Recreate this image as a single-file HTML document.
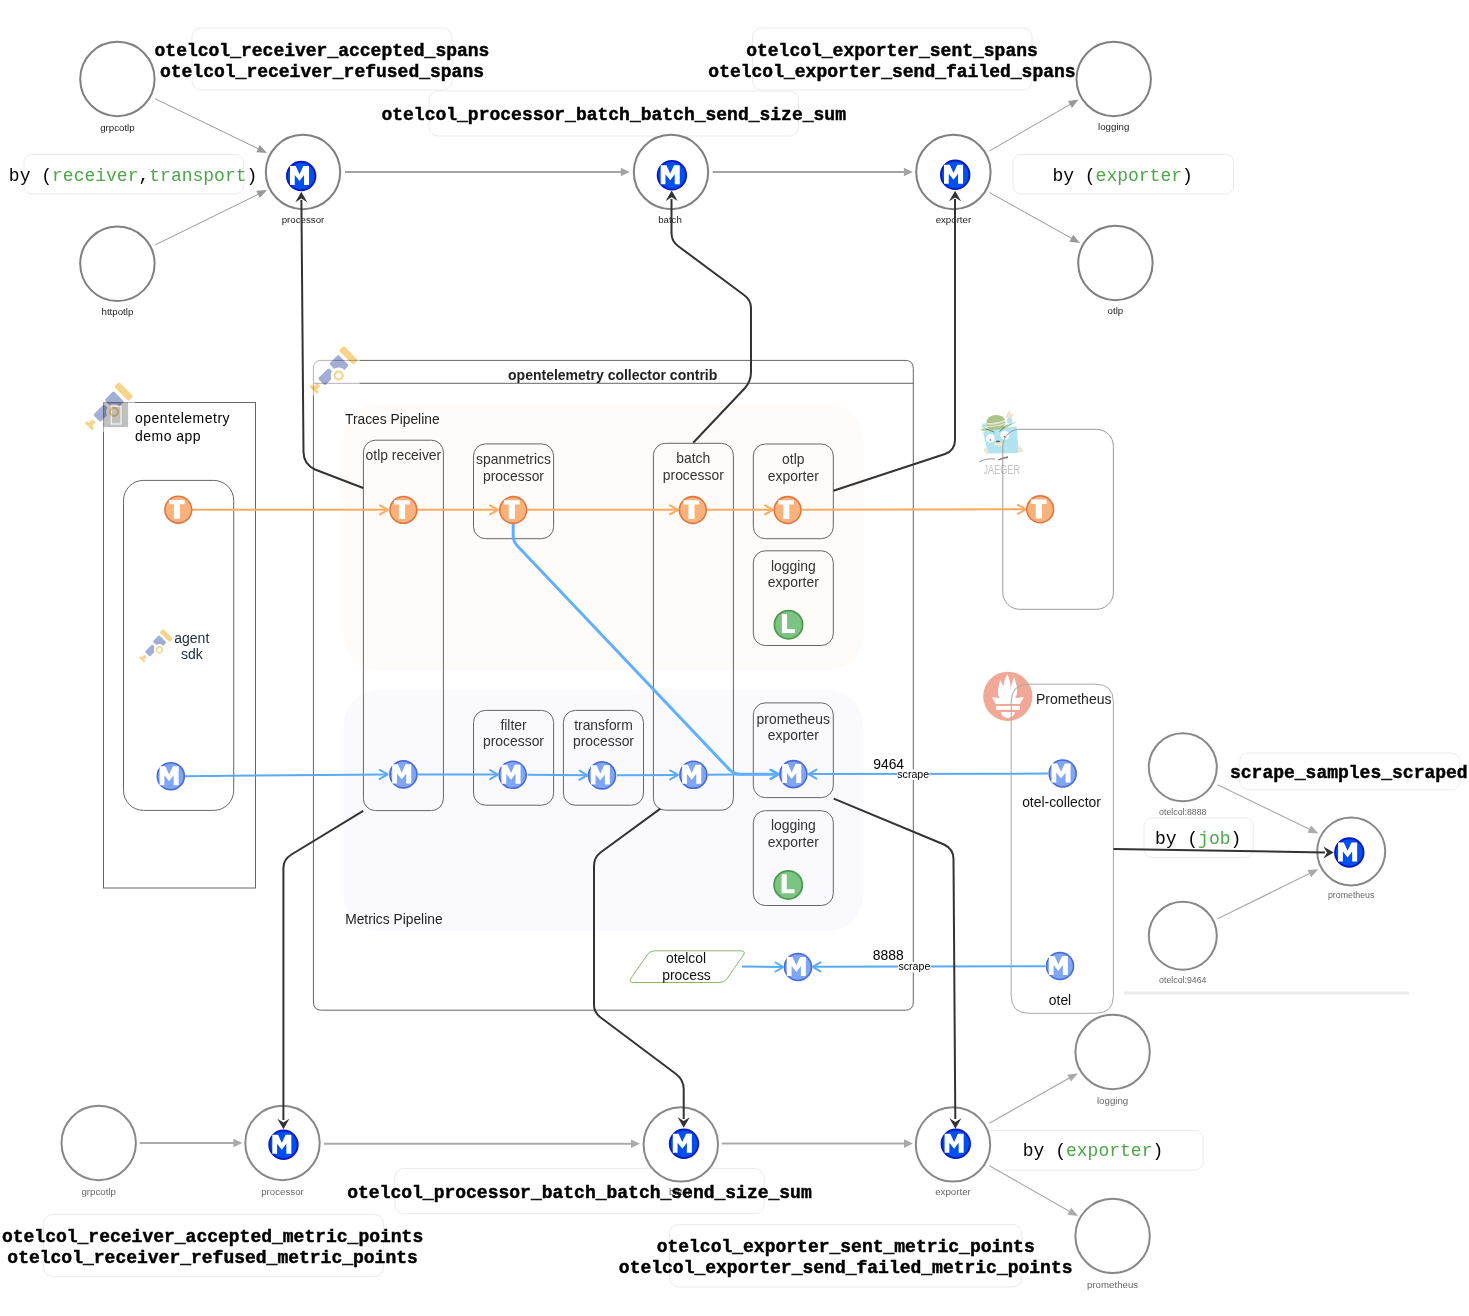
<!DOCTYPE html>
<html><head><meta charset="utf-8"><title>otelcol metrics</title>
<style>html,body{margin:0;padding:0;background:#fff;width:1469px;height:1316px;overflow:hidden;position:relative;font-family:"Liberation Sans", sans-serif;}</style>
</head><body>
<svg width="1469" height="1316" viewBox="0 0 1469 1316" style="position:absolute;left:0;top:0">
<rect width="1469" height="1316" fill="#fff"/>
<rect x="192" y="28" width="260" height="62" rx="9" ry="9" fill="none" stroke="#ebebeb" stroke-width="1" />
<rect x="429" y="91" width="369.5" height="45" rx="9" ry="9" fill="none" stroke="#ebebeb" stroke-width="1" />
<rect x="752.5" y="28" width="279.5" height="62" rx="9" ry="9" fill="none" stroke="#ebebeb" stroke-width="1" />
<rect x="24" y="154.5" width="219.5" height="39.5" rx="8" ry="8" fill="none" stroke="#ebebeb" stroke-width="1" />
<rect x="1013" y="154.5" width="220.5" height="39.5" rx="8" ry="8" fill="none" stroke="#ebebeb" stroke-width="1" />
<text x="322" y="56.4" font-size="18" fill="#000" text-anchor="middle" font-weight="bold" font-family='"Liberation Mono", monospace' stroke="#000" stroke-width="0.45">otelcol_receiver_accepted_spans</text>
<text x="322" y="77.2" font-size="18" fill="#000" text-anchor="middle" font-weight="bold" font-family='"Liberation Mono", monospace' stroke="#000" stroke-width="0.45">otelcol_receiver_refused_spans</text>
<text x="613.7" y="120.3" font-size="18" fill="#000" text-anchor="middle" font-weight="bold" font-family='"Liberation Mono", monospace' stroke="#000" stroke-width="0.45">otelcol_processor_batch_batch_send_size_sum</text>
<text x="892" y="56.4" font-size="18" fill="#000" text-anchor="middle" font-weight="bold" font-family='"Liberation Mono", monospace' stroke="#000" stroke-width="0.45">otelcol_exporter_sent_spans</text>
<text x="892" y="77.2" font-size="18" fill="#000" text-anchor="middle" font-weight="bold" font-family='"Liberation Mono", monospace' stroke="#000" stroke-width="0.45">otelcol_exporter_send_failed_spans</text>
<text x="8.85" y="180.5" font-size="18" font-family='"Liberation Mono", monospace' fill="#000">by (<tspan fill="#4ea64a">receiver</tspan>,<tspan fill="#4ea64a">transport</tspan>)</text>
<text x="1052.4" y="180.5" font-size="18" font-family='"Liberation Mono", monospace' fill="#000">by (<tspan fill="#4ea64a">exporter</tspan>)</text>
<circle cx="117.4" cy="79" r="37.2" fill="#fff" stroke="#808080" stroke-width="2"/>
<circle cx="117.4" cy="263.8" r="37.2" fill="#fff" stroke="#808080" stroke-width="2"/>
<circle cx="303" cy="172" r="37.2" fill="#fff" stroke="#808080" stroke-width="2"/>
<circle cx="671" cy="172" r="37.2" fill="#fff" stroke="#808080" stroke-width="2"/>
<circle cx="953.4" cy="172" r="37.2" fill="#fff" stroke="#808080" stroke-width="2"/>
<circle cx="1113.7" cy="79" r="37.2" fill="#fff" stroke="#808080" stroke-width="2"/>
<circle cx="1115.4" cy="263" r="37.2" fill="#fff" stroke="#808080" stroke-width="2"/>
<text x="117.4" y="130.6" font-size="9.7" fill="#222" text-anchor="middle" font-weight="normal" font-family='"Liberation Sans", sans-serif' >grpcotlp</text>
<text x="117.4" y="314.6" font-size="9.7" fill="#222" text-anchor="middle" font-weight="normal" font-family='"Liberation Sans", sans-serif' >httpotlp</text>
<text x="303" y="222.6" font-size="9.7" fill="#222" text-anchor="middle" font-weight="normal" font-family='"Liberation Sans", sans-serif' >processor</text>
<text x="670" y="222.6" font-size="9.7" fill="#222" text-anchor="middle" font-weight="normal" font-family='"Liberation Sans", sans-serif' >batch</text>
<text x="953.4" y="222.6" font-size="9.7" fill="#222" text-anchor="middle" font-weight="normal" font-family='"Liberation Sans", sans-serif' >exporter</text>
<text x="1113.7" y="129.6" font-size="9.7" fill="#222" text-anchor="middle" font-weight="normal" font-family='"Liberation Sans", sans-serif' >logging</text>
<text x="1115.4" y="313.6" font-size="9.7" fill="#222" text-anchor="middle" font-weight="normal" font-family='"Liberation Sans", sans-serif' >otlp</text>
<line x1="155" y1="98.7" x2="259.80" y2="149.51" stroke="#999" stroke-width="1"/>
<polygon fill="#999" points="267.00,153.00 256.26,152.24 259.75,145.04"/>
<line x1="155" y1="245" x2="259.82" y2="193.53" stroke="#999" stroke-width="1"/>
<polygon fill="#999" points="267.00,190.00 259.79,198.00 256.26,190.82"/>
<line x1="345" y1="172" x2="622.60" y2="172.00" stroke="#a4a4a4" stroke-width="2"/>
<polygon fill="#a4a4a4" points="629.80,172.00 620.80,176.30 620.80,167.70"/>
<line x1="712.7" y1="172" x2="905.70" y2="172.00" stroke="#a4a4a4" stroke-width="2"/>
<polygon fill="#a4a4a4" points="912.90,172.00 903.90,176.30 903.90,167.70"/>
<line x1="989.4" y1="151" x2="1071.67" y2="103.50" stroke="#999" stroke-width="1"/>
<polygon fill="#999" points="1078.60,99.50 1071.94,107.96 1067.94,101.04"/>
<line x1="989.4" y1="192.5" x2="1073.01" y2="239.11" stroke="#999" stroke-width="1"/>
<polygon fill="#999" points="1080.00,243.00 1069.32,241.63 1073.21,234.64"/>
<rect x="103.5" y="402.5" width="152" height="485.5" rx="0" ry="0" fill="none" stroke="#666" stroke-width="1" />
<rect x="85.0" y="381.9" width="50.0" height="50.0" fill="#fff" opacity="0.5"/>
<g transform="translate(114,411.9) scale(1.0) rotate(-45)" style="mix-blend-mode:multiply">
<rect x="17.8" y="-17.6" width="6.9" height="20.3" rx="1.6" fill="#f8d38a"/>
<defs><mask id="tm114411"><rect x="-40" y="-40" width="80" height="80" fill="#fff"/><circle r="8" fill="#000"/></mask></defs>
<g mask="url(#tm114411)">
<rect x="1.6" y="-15.1" width="12.8" height="15.1" rx="1.5" fill="#a3aed7"/>
<rect x="-16.8" y="-12.6" width="15" height="10" rx="1.5" fill="#a3aed7"/>
</g>
<circle r="4" fill="none" stroke="#f8d38a" stroke-width="2.2"/>
<rect x="-28.5" y="-12.8" width="3" height="10.4" rx="1" fill="#f8d38a"/>
<rect x="-26" y="-10.1" width="5.6" height="4.5" rx="0.8" fill="#f8d38a"/>
</g>
<g style="mix-blend-mode:multiply"><rect x="103.3" y="402.4" width="24.8" height="24.8" fill="#c0c0c0"/>
<rect x="111.2" y="406.2" width="9.8" height="17.8" fill="none" stroke="#fff" stroke-width="1"/></g>
<text x="134.9" y="423.0" font-size="14" fill="#000" text-anchor="start" font-weight="normal" font-family='"Liberation Sans", sans-serif' letter-spacing="0.5">opentelemetry</text>
<text x="134.9" y="440.7" font-size="14" fill="#000" text-anchor="start" font-weight="normal" font-family='"Liberation Sans", sans-serif' letter-spacing="0.5">demo app</text>
<rect x="123.5" y="480.4" width="110.2" height="330" rx="20" ry="20" fill="none" stroke="#666" stroke-width="1" />
<rect x="139.1" y="628.7" width="35.0" height="35.0" fill="#fff" opacity="0.5"/>
<g transform="translate(159.4,649.7) scale(0.7) rotate(-45)" style="mix-blend-mode:multiply">
<rect x="17.8" y="-17.6" width="6.9" height="20.3" rx="1.6" fill="#f8d38a"/>
<defs><mask id="tm159649"><rect x="-40" y="-40" width="80" height="80" fill="#fff"/><circle r="8" fill="#000"/></mask></defs>
<g mask="url(#tm159649)">
<rect x="1.6" y="-15.1" width="12.8" height="15.1" rx="1.5" fill="#a3aed7"/>
<rect x="-16.8" y="-12.6" width="15" height="10" rx="1.5" fill="#a3aed7"/>
</g>
<circle r="4" fill="none" stroke="#f8d38a" stroke-width="2.2"/>
<rect x="-28.5" y="-12.8" width="3" height="10.4" rx="1" fill="#f8d38a"/>
<rect x="-26" y="-10.1" width="5.6" height="4.5" rx="0.8" fill="#f8d38a"/>
</g>
<text x="191.8" y="642.5" font-size="14" fill="#1d2b3a" text-anchor="middle" font-weight="normal" font-family='"Liberation Sans", sans-serif' >agent</text>
<text x="191.8" y="659.3" font-size="14" fill="#1d2b3a" text-anchor="middle" font-weight="normal" font-family='"Liberation Sans", sans-serif' >sdk</text>
<path d="M313.4,1002 L313.4,368.5 Q313.4,360.4 321.5,360.4 L905.2,360.4 Q913.3,360.4 913.3,368.5 L913.3,1002 Q913.3,1010.2 905.2,1010.2 L321.5,1010.2 Q313.4,1010.2 313.4,1002 Z" fill="#fff" stroke="#666" stroke-width="1" stroke-linejoin="round" />
<line x1="313.4" y1="383.3" x2="913.3" y2="383.3" stroke="#666" stroke-width="1"/>
<text x="612.7" y="380.3" font-size="14" fill="#222" text-anchor="middle" font-weight="bold" font-family='"Liberation Sans", sans-serif' >opentelemetry collector contrib</text>
<rect x="309.7" y="345.6" width="50.0" height="50.0" fill="#fff" opacity="0.5"/>
<g transform="translate(338.7,375.6) scale(1.0) rotate(-45)" style="mix-blend-mode:multiply">
<rect x="17.8" y="-17.6" width="6.9" height="20.3" rx="1.6" fill="#f8d38a"/>
<defs><mask id="tm338375"><rect x="-40" y="-40" width="80" height="80" fill="#fff"/><circle r="8" fill="#000"/></mask></defs>
<g mask="url(#tm338375)">
<rect x="1.6" y="-15.1" width="12.8" height="15.1" rx="1.5" fill="#a3aed7"/>
<rect x="-16.8" y="-12.6" width="15" height="10" rx="1.5" fill="#a3aed7"/>
</g>
<circle r="4" fill="none" stroke="#f8d38a" stroke-width="2.2"/>
<rect x="-28.5" y="-12.8" width="3" height="10.4" rx="1" fill="#f8d38a"/>
<rect x="-26" y="-10.1" width="5.6" height="4.5" rx="0.8" fill="#f8d38a"/>
</g>
<rect x="343.6" y="403.5" width="520" height="267" rx="36" ry="36" fill="#fffbf8" stroke="none" stroke-width="1" />
<rect x="343.6" y="689.8" width="520" height="241.2" rx="36" ry="36" fill="#fafafe" stroke="none" stroke-width="1" />
<text x="345" y="424.3" font-size="13.8" fill="#222" text-anchor="start" font-weight="normal" font-family='"Liberation Sans", sans-serif' >Traces Pipeline</text>
<text x="345.2" y="924.3" font-size="13.8" fill="#222" text-anchor="start" font-weight="normal" font-family='"Liberation Sans", sans-serif' >Metrics Pipeline</text>
<rect x="363.4" y="440.2" width="80" height="370.4" rx="12" ry="12" fill="none" stroke="#666" stroke-width="1" />
<rect x="473.5" y="443.9" width="80.1" height="94.8" rx="12" ry="12" fill="none" stroke="#666" stroke-width="1" />
<rect x="653.4" y="443.3" width="80" height="366.9" rx="12" ry="12" fill="none" stroke="#666" stroke-width="1" />
<rect x="753.3" y="444" width="80" height="94.7" rx="12" ry="12" fill="none" stroke="#666" stroke-width="1" />
<rect x="753.3" y="550.8" width="80" height="94.7" rx="12" ry="12" fill="none" stroke="#666" stroke-width="1" />
<rect x="473.5" y="710.4" width="80.1" height="94.8" rx="12" ry="12" fill="none" stroke="#666" stroke-width="1" />
<rect x="563.4" y="710.4" width="80.1" height="94.8" rx="12" ry="12" fill="none" stroke="#666" stroke-width="1" />
<rect x="753.3" y="702.9" width="80" height="94.7" rx="12" ry="12" fill="none" stroke="#666" stroke-width="1" />
<rect x="753.3" y="810.7" width="80" height="94.8" rx="12" ry="12" fill="none" stroke="#666" stroke-width="1" />
<text x="403.4" y="460.2" font-size="13.9" fill="#333" text-anchor="middle" font-weight="normal" font-family='"Liberation Sans", sans-serif' >otlp receiver</text>
<text x="513.5" y="464.3" font-size="13.9" fill="#333" text-anchor="middle" font-weight="normal" font-family='"Liberation Sans", sans-serif' >spanmetrics</text>
<text x="513.5" y="480.6" font-size="13.9" fill="#333" text-anchor="middle" font-weight="normal" font-family='"Liberation Sans", sans-serif' >processor</text>
<text x="693.3" y="463.3" font-size="13.9" fill="#333" text-anchor="middle" font-weight="normal" font-family='"Liberation Sans", sans-serif' >batch</text>
<text x="693.3" y="479.6" font-size="13.9" fill="#333" text-anchor="middle" font-weight="normal" font-family='"Liberation Sans", sans-serif' >processor</text>
<text x="793.3" y="464.3" font-size="13.9" fill="#333" text-anchor="middle" font-weight="normal" font-family='"Liberation Sans", sans-serif' >otlp</text>
<text x="793.3" y="480.6" font-size="13.9" fill="#333" text-anchor="middle" font-weight="normal" font-family='"Liberation Sans", sans-serif' >exporter</text>
<text x="793.3" y="570.5" font-size="13.9" fill="#333" text-anchor="middle" font-weight="normal" font-family='"Liberation Sans", sans-serif' >logging</text>
<text x="793.3" y="586.8" font-size="13.9" fill="#333" text-anchor="middle" font-weight="normal" font-family='"Liberation Sans", sans-serif' >exporter</text>
<text x="513.5" y="730.1" font-size="13.9" fill="#333" text-anchor="middle" font-weight="normal" font-family='"Liberation Sans", sans-serif' >filter</text>
<text x="513.5" y="746.4" font-size="13.9" fill="#333" text-anchor="middle" font-weight="normal" font-family='"Liberation Sans", sans-serif' >processor</text>
<text x="603.5" y="730.1" font-size="13.9" fill="#333" text-anchor="middle" font-weight="normal" font-family='"Liberation Sans", sans-serif' >transform</text>
<text x="603.5" y="746.4" font-size="13.9" fill="#333" text-anchor="middle" font-weight="normal" font-family='"Liberation Sans", sans-serif' >processor</text>
<text x="793.3" y="723.6" font-size="13.9" fill="#333" text-anchor="middle" font-weight="normal" font-family='"Liberation Sans", sans-serif' >prometheus</text>
<text x="793.3" y="739.9" font-size="13.9" fill="#333" text-anchor="middle" font-weight="normal" font-family='"Liberation Sans", sans-serif' >exporter</text>
<text x="793.3" y="830.4" font-size="13.9" fill="#333" text-anchor="middle" font-weight="normal" font-family='"Liberation Sans", sans-serif' >logging</text>
<text x="793.3" y="846.7" font-size="13.9" fill="#333" text-anchor="middle" font-weight="normal" font-family='"Liberation Sans", sans-serif' >exporter</text>
<path d="M633,982.5 Q628.5,982.5 631,978.2 L648,953.8 Q650.5,950.8 655,950.8 L741,950.8 Q746,950.8 743.5,955 L726.5,979.5 Q724,982.5 719.5,982.5 Z" fill="#fff" stroke="#8fb56b" stroke-width="1" stroke-linejoin="round" />
<text x="686" y="963.0" font-size="13.9" fill="#111" text-anchor="middle" font-weight="normal" font-family='"Liberation Sans", sans-serif' >otelcol</text>
<text x="686.5" y="980.0" font-size="13.9" fill="#111" text-anchor="middle" font-weight="normal" font-family='"Liberation Sans", sans-serif' >process</text>
<g>
<ellipse cx="984.3" cy="426" rx="2.4" ry="2.8" fill="#b1e4f0"/><ellipse cx="1009.7" cy="420.8" rx="2.8" ry="3" fill="#b1e4f0"/>
<path d="M984.5,431.2 Q983,431.5 983.2,433 L987.8,452 Q988.3,453.6 990,453.6 L1017.2,453 Q1018.8,453 1018.7,451.3 L1016.8,427.6 Q1016.6,426 1015,426.2 Z" fill="#b1e4f0"/>
<path d="M980,430 Q984,427.5 988,428.5 L1001,427 Q1010,424 1017.2,421.2 Q1012,424.5 1004,429 L988,430.5 Q983,431 980,430 Z" fill="#a9c48b"/>
<path d="M986.2,424 Q986,416 995,415 Q1004,414.5 1005.4,421 Q1006,426 1001,427.5 L990,428.8 Q986.5,428.5 986.2,424 Z" fill="#aac48b"/>
<path d="M986.5,423.5 Q996,425 1005.5,420.5" fill="none" stroke="#ece3cf" stroke-width="1.6"/>
<path d="M986.8,426.2 Q996,427.5 1005,423.5" fill="none" stroke="#ece3cf" stroke-width="1.1"/>
<path d="M1005,417.5 L1009.5,410 L1011,415 L1014.5,412.5 L1011.5,418.5 Z" fill="#eee4cf"/>
<path d="M986,429 L994.5,432.2 M999.5,431.5 L1004.5,427" fill="none" stroke="#555" stroke-width="0.7"/>
<circle cx="990.5" cy="438.4" r="4.1" fill="#fff"/><circle cx="1004.8" cy="435.3" r="4.5" fill="#fff"/>
<circle cx="990.4" cy="440" r="0.8" fill="#555"/><circle cx="1004.5" cy="436.8" r="0.8" fill="#555"/>
<ellipse cx="998" cy="441.6" rx="2.2" ry="1.2" fill="#666"/>
<ellipse cx="999" cy="444.2" rx="5.5" ry="2" fill="#efe4cf"/>
<path d="M983.5,449 L987,447.5 L988.5,454.5 Q985,454 983.5,449 Z" fill="#efe4cf"/><path d="M1017.5,445 Q1022,447 1023.5,451.5 L1018.5,452.5 Z" fill="#efe4cf"/>
<path d="M979.5,462 Q986,458 995,459" fill="none" stroke="#888" stroke-width="0.9"/>
<path d="M998,460 Q1003,458 1008,457" fill="none" stroke="#777" stroke-width="1.3"/>
</g>
<text x="983.4" y="474.3" font-size="12.5" textLength="36.6" lengthAdjust="spacingAndGlyphs" font-family='"Liberation Sans", sans-serif' fill="#c4c4c4">JAEGER</text>
<rect x="1002.8" y="429.3" width="110.6" height="180" rx="17" ry="17" fill="none" stroke="#999" stroke-width="1" />
<g transform="translate(1007.8,696.3)">
<circle r="24.6" fill="#f2a897"/>
<path d="M-0.4,-22 C1.5,-17 3.5,-12 2.4,-7 C3.5,-11 5,-15.5 6.2,-19.4 C8.5,-13 10,-7 9.1,-2.7 C8.8,-0.5 8,1 7.2,2 L16,0.6 L12.2,7.7 L-11.8,7.7 L-15.9,0.6 L-8,2 C-9,1 -10.2,-2 -9.9,-4.6 C-9.5,-9 -8.5,-12 -7.8,-16.5 C-6.5,-14 -5,-11.5 -4.2,-9.4 C-4.5,-14 -2.5,-18 -0.4,-22 Z" fill="#fff"/>
<rect x="-11.8" y="9.7" width="23.8" height="3.8" fill="#fff"/>
<path d="M-6.8,15.6 L7,15.6 A6.9,6 0 0 1 -6.8,15.6 Z" fill="#fff"/>
</g>
<path d="M1011.2,995.5 L1011.2,702 Q1011.2,684.2 1029,684.2 L1095.6,684.2 Q1113.4,684.2 1113.4,702 L1113.4,995.5 Q1113.4,1013.3 1095.6,1013.3 L1029,1013.3 Q1011.2,1013.3 1011.2,995.5 Z" fill="none" stroke="#a8a8a8" stroke-width="1" stroke-linejoin="round" />
<text x="1036" y="703.5" font-size="14" fill="#222" text-anchor="start" font-weight="normal" font-family='"Liberation Sans", sans-serif' >Prometheus</text>
<text x="1061.5" y="807.0" font-size="13.9" fill="#111" text-anchor="middle" font-weight="normal" font-family='"Liberation Sans", sans-serif' >otel-collector</text>
<text x="1060" y="1005.0" font-size="13.9" fill="#111" text-anchor="middle" font-weight="normal" font-family='"Liberation Sans", sans-serif' >otel</text>
<circle cx="1182.8" cy="767.3" r="34" fill="#fff" stroke="#888" stroke-width="2"/>
<circle cx="1182.8" cy="935.8" r="34" fill="#fff" stroke="#888" stroke-width="2"/>
<circle cx="1351.2" cy="851.4" r="34" fill="#fff" stroke="#888" stroke-width="2"/>
<text x="1182.8" y="815" font-size="8.8" fill="#666" text-anchor="middle" font-weight="normal" font-family='"Liberation Sans", sans-serif' >otelcol:8888</text>
<text x="1182.8" y="983" font-size="8.8" fill="#666" text-anchor="middle" font-weight="normal" font-family='"Liberation Sans", sans-serif' >otelcol:9464</text>
<text x="1351.2" y="898.3" font-size="8.8" fill="#666" text-anchor="middle" font-weight="normal" font-family='"Liberation Sans", sans-serif' >prometheus</text>
<rect x="1239.7" y="753" width="220" height="36.8" rx="8" ry="8" fill="none" stroke="#ebebeb" stroke-width="1" />
<text x="1230" y="778.3" font-size="18" fill="#000" text-anchor="start" font-weight="bold" font-family='"Liberation Mono", monospace' stroke="#000" stroke-width="0.45">scrape_samples_scraped</text>
<rect x="1144" y="818" width="109.2" height="39.5" rx="8" ry="8" fill="none" stroke="#ebebeb" stroke-width="1" />
<text x="1154.9" y="844" font-size="18" font-family='"Liberation Mono", monospace' fill="#000">by (<tspan fill="#4ea64a">job</tspan>)</text>
<line x1="1217.6" y1="784.7" x2="1311.10" y2="830.01" stroke="#aaa" stroke-width="1.2"/>
<polygon fill="#aaa" points="1318.30,833.50 1307.56,832.74 1311.05,825.54"/>
<line x1="1217.6" y1="918.7" x2="1311.12" y2="872.73" stroke="#aaa" stroke-width="1.2"/>
<polygon fill="#aaa" points="1318.30,869.20 1311.09,877.20 1307.56,870.02"/>
<line x1="1123.9" y1="993.1" x2="1409.4" y2="993.1" stroke="#ececec" stroke-width="3"/>
<rect x="43.5" y="1214.4" width="340" height="62" rx="9" ry="9" fill="none" stroke="#ebebeb" stroke-width="1" />
<rect x="394.8" y="1168.5" width="369.4" height="45.2" rx="9" ry="9" fill="none" stroke="#ebebeb" stroke-width="1" />
<rect x="669.6" y="1224.6" width="352.2" height="62.4" rx="9" ry="9" fill="none" stroke="#ebebeb" stroke-width="1" />
<rect x="984.3" y="1130.4" width="218.9" height="39.8" rx="8" ry="8" fill="none" stroke="#ebebeb" stroke-width="1" />
<circle cx="98.7" cy="1143" r="37.2" fill="#fff" stroke="#888" stroke-width="2"/>
<circle cx="282.5" cy="1143" r="37.2" fill="#fff" stroke="#888" stroke-width="2"/>
<circle cx="680.8" cy="1144.4" r="37.2" fill="#fff" stroke="#888" stroke-width="2"/>
<circle cx="953" cy="1144.4" r="37.2" fill="#fff" stroke="#888" stroke-width="2"/>
<circle cx="1112.6" cy="1052" r="37.2" fill="#fff" stroke="#888" stroke-width="2"/>
<circle cx="1112.6" cy="1235.9" r="37.2" fill="#fff" stroke="#888" stroke-width="2"/>
<text x="98.7" y="1194.7" font-size="9.7" fill="#666" text-anchor="middle" font-weight="normal" font-family='"Liberation Sans", sans-serif' >grpcotlp</text>
<text x="282.5" y="1194.7" font-size="9.7" fill="#666" text-anchor="middle" font-weight="normal" font-family='"Liberation Sans", sans-serif' >processor</text>
<text x="680.8" y="1195.2" font-size="9.7" fill="#666" text-anchor="middle" font-weight="normal" font-family='"Liberation Sans", sans-serif' >batch</text>
<text x="953" y="1195.2" font-size="9.7" fill="#666" text-anchor="middle" font-weight="normal" font-family='"Liberation Sans", sans-serif' >exporter</text>
<text x="1112.6" y="1103.8" font-size="9.7" fill="#666" text-anchor="middle" font-weight="normal" font-family='"Liberation Sans", sans-serif' >logging</text>
<text x="1112.6" y="1287.6" font-size="9.7" fill="#666" text-anchor="middle" font-weight="normal" font-family='"Liberation Sans", sans-serif' >prometheus</text>
<line x1="139.5" y1="1143" x2="235.20" y2="1143.00" stroke="#aaa" stroke-width="2"/>
<polygon fill="#aaa" points="242.40,1143.00 233.40,1147.30 233.40,1138.70"/>
<line x1="324" y1="1143.7" x2="632.80" y2="1143.70" stroke="#aaa" stroke-width="2"/>
<polygon fill="#aaa" points="640.00,1143.70 631.00,1148.00 631.00,1139.40"/>
<line x1="721.7" y1="1143.6" x2="905.80" y2="1143.60" stroke="#aaa" stroke-width="2"/>
<polygon fill="#aaa" points="913.00,1143.60 904.00,1147.90 904.00,1139.30"/>
<line x1="989.4" y1="1123.2" x2="1070.93" y2="1077.14" stroke="#aaa" stroke-width="1.2"/>
<polygon fill="#aaa" points="1077.90,1073.20 1071.16,1081.60 1067.23,1074.64"/>
<line x1="989.4" y1="1165.8" x2="1071.04" y2="1212.15" stroke="#aaa" stroke-width="1.2"/>
<polygon fill="#aaa" points="1078.00,1216.10 1067.33,1214.64 1071.28,1207.68"/>
<text x="212.6" y="1241.9" font-size="18" fill="#000" text-anchor="middle" font-weight="bold" font-family='"Liberation Mono", monospace' stroke="#000" stroke-width="0.45">otelcol_receiver_accepted_metric_points</text>
<text x="212.6" y="1262.9" font-size="18" fill="#000" text-anchor="middle" font-weight="bold" font-family='"Liberation Mono", monospace' stroke="#000" stroke-width="0.45">otelcol_receiver_refused_metric_points</text>
<text x="579.5" y="1197.8" font-size="18" fill="#000" text-anchor="middle" font-weight="bold" font-family='"Liberation Mono", monospace' stroke="#000" stroke-width="0.45">otelcol_processor_batch_batch_send_size_sum</text>
<text x="845.7" y="1251.7" font-size="18" fill="#000" text-anchor="middle" font-weight="bold" font-family='"Liberation Mono", monospace' stroke="#000" stroke-width="0.45">otelcol_exporter_sent_metric_points</text>
<text x="845.7" y="1273.1" font-size="18" fill="#000" text-anchor="middle" font-weight="bold" font-family='"Liberation Mono", monospace' stroke="#000" stroke-width="0.45">otelcol_exporter_send_failed_metric_points</text>
<text x="1022.8" y="1156.3" font-size="18" font-family='"Liberation Mono", monospace' fill="#000">by (<tspan fill="#4ea64a">exporter</tspan>)</text>
<line x1="192" y1="509.8" x2="387" y2="509.8" stroke="#f9ab62" stroke-width="2"/>
<polyline fill="none" stroke="#f9ab62" stroke-width="2" stroke-linecap="round" stroke-linejoin="round" points="380.00,514.30 388.00,509.80 380.00,505.30"/>
<line x1="417" y1="509.8" x2="497" y2="509.8" stroke="#f9ab62" stroke-width="2"/>
<polyline fill="none" stroke="#f9ab62" stroke-width="2" stroke-linecap="round" stroke-linejoin="round" points="490.00,514.30 498.00,509.80 490.00,505.30"/>
<line x1="527" y1="509.8" x2="677" y2="509.8" stroke="#f9ab62" stroke-width="2"/>
<polyline fill="none" stroke="#f9ab62" stroke-width="2" stroke-linecap="round" stroke-linejoin="round" points="670.00,514.30 678.00,509.80 670.00,505.30"/>
<line x1="707" y1="509.8" x2="772" y2="509.8" stroke="#f9ab62" stroke-width="2"/>
<polyline fill="none" stroke="#f9ab62" stroke-width="2" stroke-linecap="round" stroke-linejoin="round" points="765.00,514.30 773.00,509.80 765.00,505.30"/>
<line x1="802" y1="509.8" x2="1025" y2="509.3" stroke="#f9ab62" stroke-width="2"/>
<polyline fill="none" stroke="#f9ab62" stroke-width="2" stroke-linecap="round" stroke-linejoin="round" points="1017.90,513.80 1025.90,509.30 1017.90,504.80"/>
<line x1="185" y1="776.2" x2="387.2" y2="774.4" stroke="#5aaaf7" stroke-width="2"/>
<polyline fill="none" stroke="#5aaaf7" stroke-width="2" stroke-linecap="round" stroke-linejoin="round" points="379.74,778.97 387.70,774.40 379.66,769.97"/>
<line x1="418" y1="774.4" x2="497.5" y2="774.6" stroke="#5aaaf7" stroke-width="2"/>
<polyline fill="none" stroke="#5aaaf7" stroke-width="2" stroke-linecap="round" stroke-linejoin="round" points="489.99,779.08 498.00,774.60 490.01,770.08"/>
<line x1="527.5" y1="774.8" x2="587" y2="775.3" stroke="#5aaaf7" stroke-width="2"/>
<polyline fill="none" stroke="#5aaaf7" stroke-width="2" stroke-linecap="round" stroke-linejoin="round" points="579.46,779.73 587.50,775.30 579.54,770.73"/>
<line x1="617" y1="775.3" x2="677.6" y2="774.9" stroke="#5aaaf7" stroke-width="2"/>
<polyline fill="none" stroke="#5aaaf7" stroke-width="2" stroke-linecap="round" stroke-linejoin="round" points="670.13,779.45 678.10,774.90 670.07,770.45"/>
<line x1="707.5" y1="774.8" x2="778" y2="774.2" stroke="#5aaaf7" stroke-width="2"/>
<polyline fill="none" stroke="#5aaaf7" stroke-width="2" stroke-linecap="round" stroke-linejoin="round" points="770.54,778.77 778.50,774.20 770.46,769.77"/>
<line x1="1048" y1="773.6" x2="809" y2="774.1" stroke="#5aaaf7" stroke-width="2"/>
<polyline fill="none" stroke="#5aaaf7" stroke-width="2" stroke-linecap="round" stroke-linejoin="round" points="816.50,769.60 808.50,774.10 816.50,778.60"/>
<line x1="1045.5" y1="966.3" x2="813" y2="966.8" stroke="#5aaaf7" stroke-width="2"/>
<polyline fill="none" stroke="#5aaaf7" stroke-width="2" stroke-linecap="round" stroke-linejoin="round" points="820.50,962.30 812.50,966.80 820.50,971.30"/>
<line x1="742" y1="966.5" x2="783" y2="967" stroke="#5aaaf7" stroke-width="2"/>
<polyline fill="none" stroke="#5aaaf7" stroke-width="2" stroke-linecap="round" stroke-linejoin="round" points="775.50,971.50 783.50,967.00 775.50,962.50"/>
<path d="M513.2,524 L513.2,535.5 Q513.2,541.5 517.5,546 L727,767 Q733,774.3 740,774.3 L778,774.3" fill="none" stroke="#62b0fb" stroke-width="3" stroke-linejoin="round" />
<polyline fill="none" stroke="#5aaaf7" stroke-width="2.2" stroke-linecap="round" stroke-linejoin="round" points="770.70,778.80 778.70,774.30 770.70,769.80"/>
<text x="873.2" y="769.3" font-size="13.9" fill="#000" text-anchor="start" font-weight="normal" font-family='"Liberation Sans", sans-serif' >9464</text>
<rect x="897" y="769.5" width="32.5" height="10.5" fill="#fff"/>
<text x="897.3" y="777.5" font-size="10.6" fill="#000" text-anchor="start" font-weight="normal" font-family='"Liberation Sans", sans-serif' >scrape</text>
<text x="872.8" y="960.0" font-size="13.9" fill="#000" text-anchor="start" font-weight="normal" font-family='"Liberation Sans", sans-serif' >8888</text>
<rect x="898.2" y="962" width="32.5" height="10.5" fill="#fff"/>
<text x="898.5" y="970.2" font-size="10.6" fill="#000" text-anchor="start" font-weight="normal" font-family='"Liberation Sans", sans-serif' >scrape</text>
<g transform="translate(178.3,509.7)">
<circle r="13.4" fill="#f9b27c" stroke="#e0773f" stroke-width="1.6"/>
<polygon fill="#fff" points="-9.3,-9.7 6.4,-9.7 6.4,-5.4 1.7,-5.4 1.7,9.1 -4.4,9.1 -4.4,-5.4 -9.3,-5.4"/>
</g>
<g transform="translate(403.4,509.9)">
<circle r="13.4" fill="#f9b27c" stroke="#e0773f" stroke-width="1.6"/>
<polygon fill="#fff" points="-9.3,-9.7 6.4,-9.7 6.4,-5.4 1.7,-5.4 1.7,9.1 -4.4,9.1 -4.4,-5.4 -9.3,-5.4"/>
</g>
<g transform="translate(513.2,510)">
<circle r="13.4" fill="#f9b27c" stroke="#e0773f" stroke-width="1.6"/>
<polygon fill="#fff" points="-9.3,-9.7 6.4,-9.7 6.4,-5.4 1.7,-5.4 1.7,9.1 -4.4,9.1 -4.4,-5.4 -9.3,-5.4"/>
</g>
<g transform="translate(692.8,510)">
<circle r="13.4" fill="#f9b27c" stroke="#e0773f" stroke-width="1.6"/>
<polygon fill="#fff" points="-9.3,-9.7 6.4,-9.7 6.4,-5.4 1.7,-5.4 1.7,9.1 -4.4,9.1 -4.4,-5.4 -9.3,-5.4"/>
</g>
<g transform="translate(787.6,510)">
<circle r="13.4" fill="#f9b27c" stroke="#e0773f" stroke-width="1.6"/>
<polygon fill="#fff" points="-9.3,-9.7 6.4,-9.7 6.4,-5.4 1.7,-5.4 1.7,9.1 -4.4,9.1 -4.4,-5.4 -9.3,-5.4"/>
</g>
<g transform="translate(1040.2,509.3)">
<circle r="13.4" fill="#f9b27c" stroke="#e0773f" stroke-width="1.6"/>
<polygon fill="#fff" points="-9.3,-9.7 6.4,-9.7 6.4,-5.4 1.7,-5.4 1.7,9.1 -4.4,9.1 -4.4,-5.4 -9.3,-5.4"/>
</g>
<g transform="translate(788.5,624.7)">
<circle r="14.1" fill="#7dc383" stroke="#4b9c50" stroke-width="1.8"/>
<polygon fill="#fff" points="-6.6,-10.7 -1.5,-10.7 -1.5,4.3 6.3,4.3 6.3,8.3 -6.6,8.3"/>
</g>
<g transform="translate(788.2,884.9)">
<circle r="14.1" fill="#7dc383" stroke="#4b9c50" stroke-width="1.8"/>
<polygon fill="#fff" points="-6.6,-10.7 -1.5,-10.7 -1.5,4.3 6.3,4.3 6.3,8.3 -6.6,8.3"/>
</g>
<g transform="translate(170.8,776.2)">
<circle r="14.5" fill="#fff"/>
<circle r="13.5" fill="#7ea6f2" stroke="#4868dc" stroke-width="1.6"/>
<polygon fill="#fff" points="-11.20,-10.05 -5.49,-10.05 -1.68,-1.71 2.13,-10.05 7.85,-10.05 7.85,9.00 2.85,9.00 2.85,-1.00 -1.68,4.95 -6.44,-1.00 -6.44,9.00 -11.20,9.00"/>
</g>
<g transform="translate(403.4,774.4)">
<circle r="14.5" fill="#fff"/>
<circle r="13.5" fill="#7ea6f2" stroke="#4868dc" stroke-width="1.6"/>
<polygon fill="#fff" points="-11.20,-10.05 -5.49,-10.05 -1.68,-1.71 2.13,-10.05 7.85,-10.05 7.85,9.00 2.85,9.00 2.85,-1.00 -1.68,4.95 -6.44,-1.00 -6.44,9.00 -11.20,9.00"/>
</g>
<g transform="translate(512.7,774.8)">
<circle r="14.5" fill="#fff"/>
<circle r="13.5" fill="#7ea6f2" stroke="#4868dc" stroke-width="1.6"/>
<polygon fill="#fff" points="-11.20,-10.05 -5.49,-10.05 -1.68,-1.71 2.13,-10.05 7.85,-10.05 7.85,9.00 2.85,9.00 2.85,-1.00 -1.68,4.95 -6.44,-1.00 -6.44,9.00 -11.20,9.00"/>
</g>
<g transform="translate(602,775.4)">
<circle r="14.5" fill="#fff"/>
<circle r="13.5" fill="#7ea6f2" stroke="#4868dc" stroke-width="1.6"/>
<polygon fill="#fff" points="-11.20,-10.05 -5.49,-10.05 -1.68,-1.71 2.13,-10.05 7.85,-10.05 7.85,9.00 2.85,9.00 2.85,-1.00 -1.68,4.95 -6.44,-1.00 -6.44,9.00 -11.20,9.00"/>
</g>
<g transform="translate(693.4,774.8)">
<circle r="14.5" fill="#fff"/>
<circle r="13.5" fill="#7ea6f2" stroke="#4868dc" stroke-width="1.6"/>
<polygon fill="#fff" points="-11.20,-10.05 -5.49,-10.05 -1.68,-1.71 2.13,-10.05 7.85,-10.05 7.85,9.00 2.85,9.00 2.85,-1.00 -1.68,4.95 -6.44,-1.00 -6.44,9.00 -11.20,9.00"/>
</g>
<g transform="translate(793.4,774.1)">
<circle r="14.5" fill="#fff"/>
<circle r="13.5" fill="#7ea6f2" stroke="#4868dc" stroke-width="1.6"/>
<polygon fill="#fff" points="-11.20,-10.05 -5.49,-10.05 -1.68,-1.71 2.13,-10.05 7.85,-10.05 7.85,9.00 2.85,9.00 2.85,-1.00 -1.68,4.95 -6.44,-1.00 -6.44,9.00 -11.20,9.00"/>
</g>
<g transform="translate(798,967)">
<circle r="14.5" fill="#fff"/>
<circle r="13.5" fill="#7ea6f2" stroke="#4868dc" stroke-width="1.6"/>
<polygon fill="#fff" points="-11.20,-10.05 -5.49,-10.05 -1.68,-1.71 2.13,-10.05 7.85,-10.05 7.85,9.00 2.85,9.00 2.85,-1.00 -1.68,4.95 -6.44,-1.00 -6.44,9.00 -11.20,9.00"/>
</g>
<g transform="translate(1062.7,773.5)">
<circle r="14.5" fill="#fff"/>
<circle r="13.5" fill="#7ea6f2" stroke="#4868dc" stroke-width="1.6"/>
<polygon fill="#fff" points="-11.20,-10.05 -5.49,-10.05 -1.68,-1.71 2.13,-10.05 7.85,-10.05 7.85,9.00 2.85,9.00 2.85,-1.00 -1.68,4.95 -6.44,-1.00 -6.44,9.00 -11.20,9.00"/>
</g>
<g transform="translate(1060,966)">
<circle r="14.5" fill="#fff"/>
<circle r="13.5" fill="#7ea6f2" stroke="#4868dc" stroke-width="1.6"/>
<polygon fill="#fff" points="-11.20,-10.05 -5.49,-10.05 -1.68,-1.71 2.13,-10.05 7.85,-10.05 7.85,9.00 2.85,9.00 2.85,-1.00 -1.68,4.95 -6.44,-1.00 -6.44,9.00 -11.20,9.00"/>
</g>
<g transform="translate(301.2,176)">
<circle r="15.2" fill="#fff"/>
<circle r="14.2" fill="#0050ef" stroke="#0a1cc0" stroke-width="2"/>
<polygon fill="#fff" points="-11.20,-10.05 -5.49,-10.05 -1.68,-1.71 2.13,-10.05 7.85,-10.05 7.85,9.00 2.85,9.00 2.85,-1.00 -1.68,4.95 -6.44,-1.00 -6.44,9.00 -11.20,9.00"/>
</g>
<g transform="translate(671.9,175.3)">
<circle r="15.2" fill="#fff"/>
<circle r="14.2" fill="#0050ef" stroke="#0a1cc0" stroke-width="2"/>
<polygon fill="#fff" points="-11.20,-10.05 -5.49,-10.05 -1.68,-1.71 2.13,-10.05 7.85,-10.05 7.85,9.00 2.85,9.00 2.85,-1.00 -1.68,4.95 -6.44,-1.00 -6.44,9.00 -11.20,9.00"/>
</g>
<g transform="translate(955.2,174.8)">
<circle r="15.2" fill="#fff"/>
<circle r="14.2" fill="#0050ef" stroke="#0a1cc0" stroke-width="2"/>
<polygon fill="#fff" points="-11.20,-10.05 -5.49,-10.05 -1.68,-1.71 2.13,-10.05 7.85,-10.05 7.85,9.00 2.85,9.00 2.85,-1.00 -1.68,4.95 -6.44,-1.00 -6.44,9.00 -11.20,9.00"/>
</g>
<g transform="translate(283.5,1144.7)">
<circle r="15.2" fill="#fff"/>
<circle r="14.2" fill="#0050ef" stroke="#0a1cc0" stroke-width="2"/>
<polygon fill="#fff" points="-11.20,-10.05 -5.49,-10.05 -1.68,-1.71 2.13,-10.05 7.85,-10.05 7.85,9.00 2.85,9.00 2.85,-1.00 -1.68,4.95 -6.44,-1.00 -6.44,9.00 -11.20,9.00"/>
</g>
<g transform="translate(684,1143.7)">
<circle r="15.2" fill="#fff"/>
<circle r="14.2" fill="#0050ef" stroke="#0a1cc0" stroke-width="2"/>
<polygon fill="#fff" points="-11.20,-10.05 -5.49,-10.05 -1.68,-1.71 2.13,-10.05 7.85,-10.05 7.85,9.00 2.85,9.00 2.85,-1.00 -1.68,4.95 -6.44,-1.00 -6.44,9.00 -11.20,9.00"/>
</g>
<g transform="translate(955.8,1143.7)">
<circle r="15.2" fill="#fff"/>
<circle r="14.2" fill="#0050ef" stroke="#0a1cc0" stroke-width="2"/>
<polygon fill="#fff" points="-11.20,-10.05 -5.49,-10.05 -1.68,-1.71 2.13,-10.05 7.85,-10.05 7.85,9.00 2.85,9.00 2.85,-1.00 -1.68,4.95 -6.44,-1.00 -6.44,9.00 -11.20,9.00"/>
</g>
<g transform="translate(1349.3,852.5)">
<circle r="15.2" fill="#fff"/>
<circle r="14.2" fill="#0050ef" stroke="#0a1cc0" stroke-width="2"/>
<polygon fill="#fff" points="-11.20,-10.05 -5.49,-10.05 -1.68,-1.71 2.13,-10.05 7.85,-10.05 7.85,9.00 2.85,9.00 2.85,-1.00 -1.68,4.95 -6.44,-1.00 -6.44,9.00 -11.20,9.00"/>
</g>
<path d="M363.2,488 L315,469.5 Q303.5,464 303.5,452 L301.4,200" fill="none" stroke="#333" stroke-width="2.0" stroke-linejoin="round" />
<polygon fill="#333" points="301.30,191.70 307.30,202.20 301.30,198.40 295.30,202.20"/>
<path d="M693.2,442.8 L745,388 Q751,381 751,372 L751,308 Q751,300 744,295 L678,246 Q671.5,241 671.5,233 L671.5,199" fill="none" stroke="#333" stroke-width="2.0" stroke-linejoin="round" />
<polygon fill="#333" points="671.70,190.60 677.70,201.10 671.70,197.30 665.70,201.10"/>
<path d="M833.4,490.8 L945,454 Q955,450.5 955,440 L955,199" fill="none" stroke="#333" stroke-width="2.0" stroke-linejoin="round" />
<polygon fill="#333" points="955.10,190.80 961.10,201.30 955.10,197.50 949.10,201.30"/>
<path d="M363.2,810.8 L291.5,854.5 Q283.4,859.5 283.4,868 L283.4,1120" fill="none" stroke="#333" stroke-width="2.0" stroke-linejoin="round" />
<polygon fill="#333" points="283.40,1129.30 277.40,1118.80 283.40,1122.60 289.40,1118.80"/>
<path d="M660.4,808.6 L600.5,852.5 Q594,857.5 594,866 L594,1005 Q594,1012 600,1017 L676,1074 Q683.7,1080 683.7,1089 L683.7,1119" fill="none" stroke="#333" stroke-width="2.0" stroke-linejoin="round" />
<polygon fill="#333" points="683.70,1127.70 677.70,1117.20 683.70,1121.00 689.70,1117.20"/>
<path d="M833.7,798.6 L944,844.5 Q953.5,849 953.5,859 L955.3,1119" fill="none" stroke="#333" stroke-width="2.0" stroke-linejoin="round" />
<polygon fill="#333" points="955.40,1128.70 949.40,1118.20 955.40,1122.00 961.40,1118.20"/>
<line x1="1113.4" y1="849" x2="1325" y2="852.5" stroke="#333" stroke-width="2"/>
<polygon fill="#333" points="1333.80,852.50 1323.30,858.50 1327.10,852.50 1323.30,846.50"/>
</svg>
</body></html>
